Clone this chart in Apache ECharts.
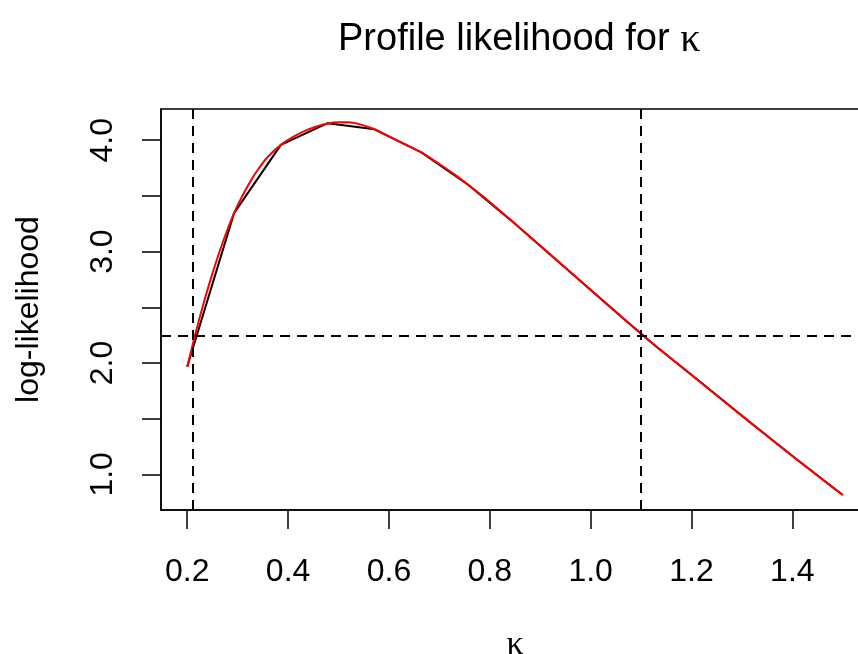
<!DOCTYPE html>
<html>
<head>
<meta charset="utf-8">
<script src="https://cdn.jsdelivr.net/npm/echarts@6/dist/echarts.min.js"></script>
<style>
html,body{margin:0;padding:0;background:#ffffff;}
#chart{width:858px;height:654px;}
</style>
</head>
<body>
<div id="chart"></div>
<script>
// Profile log-likelihood evaluated on the coarse kappa grid (black polyline)
const gridKappa = [0.2000, 0.2929, 0.3857, 0.4786, 0.5714, 0.6643, 0.7571, 0.8500, 0.9429, 1.0357, 1.1286, 1.2214, 1.3143, 1.4071, 1.5000];
const gridLogLik = [1.966, 3.345, 3.958, 4.153, 4.098, 3.890, 3.600, 3.250, 2.882, 2.514, 2.153, 1.815, 1.474, 1.140, 0.814];

// Smoothed profile curve (red)
const smoothKappa = [0.200, 0.215, 0.230, 0.245, 0.260, 0.275, 0.2929, 0.310, 0.325, 0.340, 0.360, 0.3857, 0.410, 0.430, 0.455, 0.4786, 0.500, 0.520, 0.545, 0.5714, 0.600, 0.630, 0.6643, 0.700, 0.730, 0.7571, 0.800, 0.850, 0.900, 0.950, 1.000, 1.050, 1.106, 1.150, 1.200, 1.250, 1.300, 1.350, 1.400, 1.450, 1.500];
const smoothLogLik = [1.966, 2.241, 2.496, 2.730, 2.945, 3.140, 3.345, 3.505, 3.628, 3.735, 3.851, 3.958, 4.029, 4.077, 4.120, 4.150, 4.162, 4.160, 4.140, 4.098, 4.035, 3.967, 3.890, 3.786, 3.693, 3.600, 3.446, 3.250, 3.052, 2.855, 2.657, 2.459, 2.239, 2.075, 1.893, 1.708, 1.525, 1.345, 1.165, 0.988, 0.814];

// Confidence interval limits and cut-off level (dashed reference lines)
const ciBounds = [0.2139, 1.105];
const cutoffLevel = [2.239];

// Axis ticks and labels
const xTicks = [0.2, 0.4, 0.6, 0.8, 1.0, 1.2, 1.4];
const yTicks = [1.0, 1.5, 2.0, 2.5, 3.0, 3.5, 4.0];
const yLabelValues = [1.0, 2.0, 3.0, 4.0];

const titleText = 'Profile likelihood for ';
const titleSymbol = 'κ';
const xName = 'κ';
const yName = 'log-likelihood';

const FONT = '"Liberation Sans", Arial, Helvetica, sans-serif';
const SERIF = '"Liberation Serif", "DejaVu Serif", serif';

const pairs = (xs, ys) => xs.map((x, i) => [x, ys[i]]);

const chart = echarts.init(document.getElementById('chart'), null, {renderer: 'canvas'});

const option = {
  animation: false,
  backgroundColor: '#ffffff',
  title: {
    text: titleText + '{k|' + titleSymbol + '}',
    left: 333,
    top: 15,
    textStyle: {
      fontFamily: FONT,
      fontSize: 38,
      fontWeight: 'normal',
      color: '#000',
      rich: {
        k: {fontFamily: SERIF, fontSize: 40, color: '#000'}
      }
    }
  },
  grid: {
    left: 161,
    top: 109,
    width: 708,
    height: 401,
    outerBoundsMode: 'none',
    containLabel: false,
    show: true,
    borderColor: '#000',
    borderWidth: 1.5,
    backgroundColor: 'transparent'
  },
  xAxis: {
    type: 'value',
    min: 0.148,
    max: 1.552,
    name: xName,
    nameLocation: 'middle',
    nameGap: 118,
    nameTextStyle: {fontFamily: SERIF, fontSize: 34, color: '#000'},
    axisLine: {show: true, lineStyle: {color: '#000', width: 1.5}},
    axisTick: {show: true, length: 19, customValues: xTicks, lineStyle: {color: '#000', width: 1.5}},
    axisLabel: {
      show: true,
      customValues: xTicks,
      margin: 46,
      fontFamily: FONT,
      fontSize: 32,
      color: '#000',
      formatter: v => Number(v).toFixed(1)
    },
    splitLine: {show: false}
  },
  yAxis: {
    type: 'value',
    min: 0.68,
    max: 4.28,
    name: yName,
    nameLocation: 'middle',
    nameRotate: 90,
    nameGap: 116,
    nameTextStyle: {fontFamily: FONT, fontSize: 32, color: '#000'},
    axisLine: {show: true, lineStyle: {color: '#000', width: 1.5}},
    axisTick: {show: true, length: 19, customValues: yTicks, lineStyle: {color: '#000', width: 1.5}},
    axisLabel: {
      show: true,
      customValues: yLabelValues,
      rotate: 90,
      margin: 42,
      fontFamily: FONT,
      fontSize: 32,
      color: '#000',
      formatter: v => Number(v).toFixed(1)
    },
    splitLine: {show: false}
  },
  series: [
    {
      type: 'line',
      name: 'grid',
      data: pairs(gridKappa, gridLogLik),
      showSymbol: false,
      symbol: 'none',
      lineStyle: {color: '#000', width: 2},
      z: 2,
      silent: true
    },
    {
      type: 'line',
      name: 'smooth',
      data: pairs(smoothKappa, smoothLogLik),
      showSymbol: false,
      symbol: 'none',
      smooth: 0.3,
      lineStyle: {color: '#ff0000', width: 2},
      z: 3,
      silent: true
    },
    {
      type: 'line',
      name: 'reference',
      data: [],
      silent: true,
      z: 4,
      markLine: {
        silent: true,
        symbol: ['none', 'none'],
        label: {show: false},
        lineStyle: {color: '#000', width: 2, type: [10, 7]},
        emphasis: {disabled: true},
        data: ciBounds.map(v => ({xAxis: v})).concat(cutoffLevel.map(v => ({yAxis: v})))
      }
    }
  ]
};

chart.setOption(option);
</script>
</body>
</html>
